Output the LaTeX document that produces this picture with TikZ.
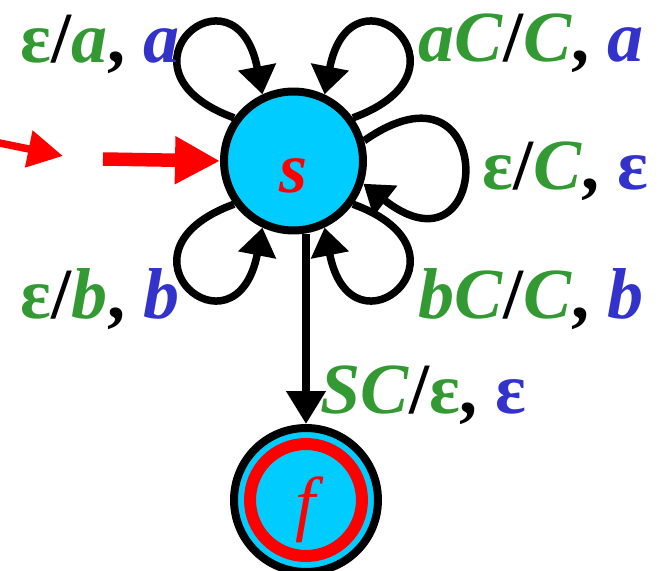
\documentclass[tikz,border=0pt]{standalone}
\usepackage{fontspec}
\setmainfont{Liberation Serif}
\usetikzlibrary{arrows.meta,positioning}

\definecolor{lblgreen}{RGB}{51,153,51}
\definecolor{lblblue}{RGB}{51,51,204}
\definecolor{statecyan}{RGB}{0,204,255}
\newcommand{\grn}[1]{\textcolor{lblgreen}{\textit{#1}}}
\newcommand{\blu}[1]{\textcolor{lblblue}{\textit{#1}}}
\newcommand{\epsg}{\textcolor{lblgreen}{ε}}
\newcommand{\epsb}{\textcolor{lblblue}{ε}}

\begin{document}
\begin{tikzpicture}[
  x=0.02cm,y=0.02cm,
  state/.style={draw,circle,line width=0.16cm,fill=statecyan,inner sep=0pt,
                text=red,text depth=0pt},
  loopedge/.style={line width=0.15cm,-{Triangle[length=0.56cm,width=0.74cm]}},
  lbl/.style={anchor=base west,inner sep=0pt,font=\fontsize{41}{45}\selectfont\bfseries},
  startarr/.style={red,-{Triangle[length=0.9cm,width=0.9cm]}},
]
\clip (0,0) rectangle (660,-571);

%% ===== States ================================================================
\node[state,minimum size=2.78cm,text height=1.28cm,
      font=\fontsize{41}{45}\selectfont\bfseries\itshape] (s) at (293.5,-161) {s};
\node[state,minimum size=2.88cm,text height=1.12cm,
      font=\fontsize{41}{45}\selectfont\itshape] (f) at (306,-500) {f};
\draw[red,line width=0.24cm] (f.center) circle (1.12cm);

%% ===== Start arrow ===========================================================
\coordinate (in0) at (-15,-140);
\coordinate (in1) at (63,-156);
\coordinate (in2) at (103,-159);
\draw[startarr,line width=0.15cm,-{Triangle[length=0.7cm,width=0.72cm]}] (in0) -- (in1);
\draw[startarr,line width=0.27cm] (in2) -- (s.west);

%% ===== Loops on s ============================================================
\draw[loopedge] (s.144) .. controls +(160:140) and +(101:140) .. (s.115);
\draw[loopedge] (s.36) .. controls +(20:140) and +(79:140) .. (s.65);
\draw[loopedge] (s.16) .. controls +(35:165) and +(-38:165) .. (s.-18);
\draw[loopedge] (s.-144) .. controls +(-160:140) and +(-101:140) .. (s.-115);
\draw[loopedge] (s.-36) .. controls +(-20:140) and +(-79:140) .. (s.-65);

%% ===== s to f ================================================================
\draw[line width=0.15cm,-{Triangle[length=0.66cm,width=0.76cm]}] (f.north |- s.south) -- (f.north);

%% ===== Labels ================================================================
\node[lbl] (la)  at (20,-63)   {\epsg/\grn{a}, \blu{a}};
\node[lbl] (laC) at (418,-62)  {\grn{aC}/\grn{C}, \blu{a}};
\node[lbl] (leC) at (482,-190) {\epsg/\grn{C}, \epsb};
\node[lbl] (lb)  at (20,-318)  {\epsg/\grn{b}, \blu{b}};
\node[lbl] (lbC) at (418,-318) {\grn{bC}/\grn{C}, \blu{b}};
\node[lbl] (lSC) at (320,-413) {\grn{SC}/\epsg, \epsb};

\end{tikzpicture}
\end{document}
